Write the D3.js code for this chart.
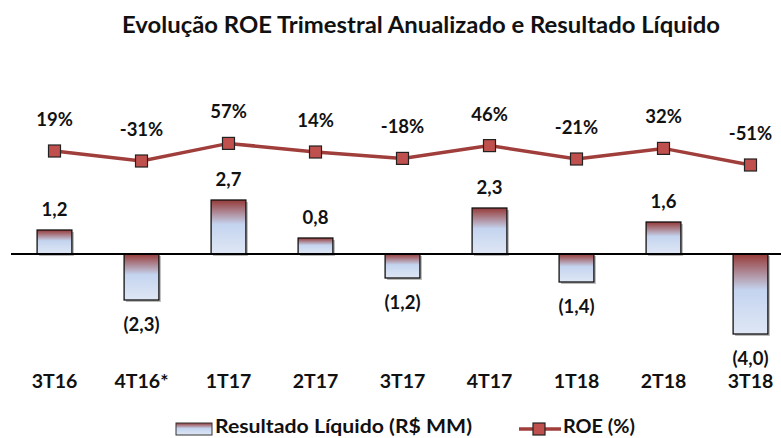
<!DOCTYPE html>
<html><head><meta charset="utf-8">
<script src="https://cdn.jsdelivr.net/npm/d3@7"></script>
<style>
html,body{margin:0;padding:0;background:#fff;}
text{font-family:Lato,"Open Sans",sans-serif;font-weight:bold;fill:#111;}
</style></head>
<body><svg id="c" width="781" height="438"></svg>
<script>
const categories = ["3T16","4T16*","1T17","2T17","3T17","4T17","1T18","2T18","3T18"];
const resultado = [1.2,-2.3,2.7,0.8,-1.2,2.3,-1.4,1.6,-4.0];
const roe = [19,-31,57,14,-18,46,-21,32,-51];
const titleText = "Evolução ROE Trimestral Anualizado e Resultado Líquido";
const legendLabels = ["Resultado Líquido (R$ MM)","ROE (%)"];

const svg = d3.select("#c");
const defs = svg.append("defs");
const grad = defs.append("linearGradient").attr("id","barGrad")
  .attr("x1",0).attr("y1",0).attr("x2",0).attr("y2",1);
grad.append("stop").attr("offset","0%").attr("stop-color","#963a38");
grad.append("stop").attr("offset","45%").attr("stop-color","#c4d4ef");
grad.append("stop").attr("offset","100%").attr("stop-color","#dfe7f5");

const x = d3.scaleBand().domain(categories).range([11,794]).paddingInner(0.6).paddingOuter(0.3);
const yBar = d3.scaleLinear().domain([-4.5,3.0]).range([344,194]);
const yRoe = d3.scaleLinear().domain([-60,60]).range([166.8,142.8]);

const fmt = v => {
  const s = Math.abs(v).toFixed(1).replace(".",",");
  return v < 0 ? "(" + s + ")" : s;
};

// title
svg.append("text").attr("x",421).attr("y",33).attr("text-anchor","middle")
  .attr("textLength",598).attr("lengthAdjust","spacingAndGlyphs")
  .style("font-size","22px").text(titleText);

// bars shadow
svg.append("g").selectAll("rect").data(resultado).join("rect")
  .attr("x",(d,i)=>x(categories[i])+2)
  .attr("y",d=>Math.min(yBar(d),yBar(0))+2)
  .attr("width",x.bandwidth())
  .attr("height",d=>Math.abs(yBar(d)-yBar(0)))
  .attr("fill","#bbb");
// bars
svg.append("g").selectAll("rect").data(resultado).join("rect")
  .attr("x",(d,i)=>x(categories[i]))
  .attr("y",d=>Math.min(yBar(d),yBar(0)))
  .attr("width",x.bandwidth())
  .attr("height",d=>Math.abs(yBar(d)-yBar(0)))
  .attr("fill","url(#barGrad)").attr("stroke","#111").attr("stroke-width",1.3);

// zero axis
svg.append("line").attr("x1",11).attr("x2",781).attr("y1",yBar(0)).attr("y2",yBar(0))
  .attr("stroke","#000").attr("stroke-width",2);

// bar labels
svg.append("g").selectAll("text").data(resultado).join("text")
  .attr("x",(d,i)=>x(categories[i])+x.bandwidth()/2)
  .attr("y",d=> d>=0 ? yBar(d)-14 : yBar(d)+31)
  .attr("text-anchor","middle").style("font-size","18.5px")
  .text(fmt);

// ROE line
const cx = i => x(categories[i]) + x.bandwidth()/2;
const line = d3.line().x((d,i)=>cx(i)).y(d=>yRoe(d));
svg.append("path").datum(roe).attr("d",line).attr("fill","none")
  .attr("stroke","#a03e3b").attr("stroke-width",3.5);
svg.append("g").selectAll("rect").data(roe).join("rect")
  .attr("x",(d,i)=>cx(i)-6).attr("y",d=>yRoe(d)-6)
  .attr("width",12).attr("height",12)
  .attr("fill","#c0504d").attr("stroke","#222").attr("stroke-width",1.2);
svg.append("g").selectAll("text").data(roe).join("text")
  .attr("x",(d,i)=>cx(i)).attr("y",d=>yRoe(d)-25)
  .attr("text-anchor","middle").style("font-size","18.5px")
  .text(d=>d+"%");

// category axis labels
svg.append("g").selectAll("text").data(categories).join("text")
  .attr("x",d=>x(d)+x.bandwidth()/2).attr("y",388)
  .attr("text-anchor","middle").style("font-size","19.5px")
  .text(d=>d);

// legend
const lg = svg.append("g");
lg.append("rect").attr("x",176).attr("y",423).attr("width",36).attr("height",12)
  .attr("fill","url(#barGrad)").attr("stroke","#333").attr("stroke-width",1);
lg.append("text").attr("x",215).attr("y",433).style("font-size","19.5px")
  .attr("textLength",257).attr("lengthAdjust","spacingAndGlyphs").text(legendLabels[0]);
lg.append("line").attr("x1",519).attr("x2",561).attr("y1",429).attr("y2",429)
  .attr("stroke","#a03e3b").attr("stroke-width",3.5);
lg.append("rect").attr("x",533).attr("y",423).attr("width",12).attr("height",12)
  .attr("fill","#c0504d").attr("stroke","#222").attr("stroke-width",1.2);
lg.append("text").attr("x",563).attr("y",433).style("font-size","19.5px")
  .attr("textLength",72).attr("lengthAdjust","spacingAndGlyphs").text(legendLabels[1]);
</script></body></html>
